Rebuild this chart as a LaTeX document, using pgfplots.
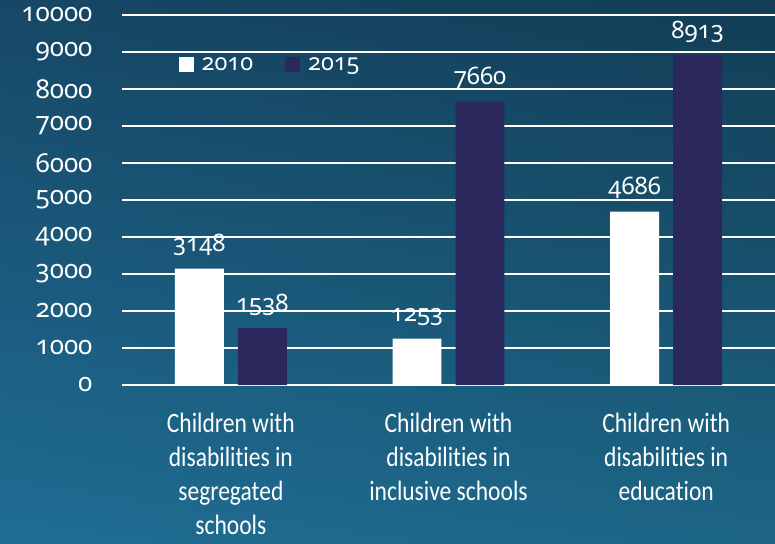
\documentclass[border=0pt]{standalone}
\usepackage{fontspec}
\setmainfont{Carlito}[Ligatures=NoCommon, FakeStretch=0.84]
\newfontfamily\numfont{Noto Sans}[Numbers=OldStyle]
\usepackage{pgfplots}
\pgfplotsset{compat=1.18}
\usetikzlibrary{shadings}

\definecolor{bgul}{HTML}{164766}
\definecolor{bgur}{HTML}{123D55}
\definecolor{bgll}{HTML}{1F6D94}
\definecolor{bglr}{HTML}{1D6585}
\definecolor{bar15}{HTML}{2B285E}

\begin{document}
\begin{tikzpicture}
% slide background
\shade[upper left=bgul, upper right=bgur, lower left=bgll, lower right=bglr]
  (0pt,0pt) rectangle (775pt,543pt);

\begin{axis}[
    at={(122pt,158pt)}, anchor=south west,
    scale only axis,
    width=653pt, height=370pt,
    xmin=-0.5, xmax=2.5,
    ymin=0, ymax=10000,
    axis line style={draw=none},
    major tick length=0pt,
    ytick distance=1000,
    scaled y ticks=false,
    /pgf/number format/1000 sep={},
    /pgf/number format/assume math mode=true,
    ymajorgrids,
    grid style={white, line width=1.3pt},
    yticklabel style={white, font=\numfont\fontsize{26}{26}\selectfont, xshift=-26pt},
    xtick={0,1,2},
    xticklabels={
        {Children with\\disabilities in\\segregated\\schools},
        {Children with\\disabilities in\\inclusive schools},
        {Children with\\disabilities in\\education}},
    xticklabel style={white, align=center, anchor=north, inner sep=0pt,
        yshift=-28pt, font=\fontsize{28}{34}\selectfont},
    bar width=0.225,
    nodes near coords,
    every node near coord/.append style={white, anchor=base, yshift=17pt,
        font=\numfont\fontsize{24}{24}\selectfont},
    legend columns=2,
    legend style={at={(0.082,0.865)}, anchor=west, draw=none, fill=none,
        text=white, font=\numfont\fontsize{23.5}{23.5}\selectfont,
        column sep=6pt,
        /tikz/every even column/.append style={column sep=30pt}},
    legend image code/.code={\fill[#1] (0pt,-7.5pt) rectangle (15pt,7.5pt);},
]

% 2010
\addplot[ybar, fill=white, draw=none, bar shift=-0.1447,
    every node near coord/.append style={xshift=-31.5pt}]
    coordinates {(0,3148) (1,1253) (2,4686)};
% 2015
\addplot[ybar, fill=bar15, draw=none, bar shift=0.1447,
    every node near coord/.append style={xshift=31.5pt}]
    coordinates {(0,1538) (1,7660) (2,8913)};

\legend{2010, 2015}
\end{axis}

\pgfresetboundingbox
\useasboundingbox (0pt,0pt) rectangle (775pt,543pt);
\end{tikzpicture}
\end{document}
